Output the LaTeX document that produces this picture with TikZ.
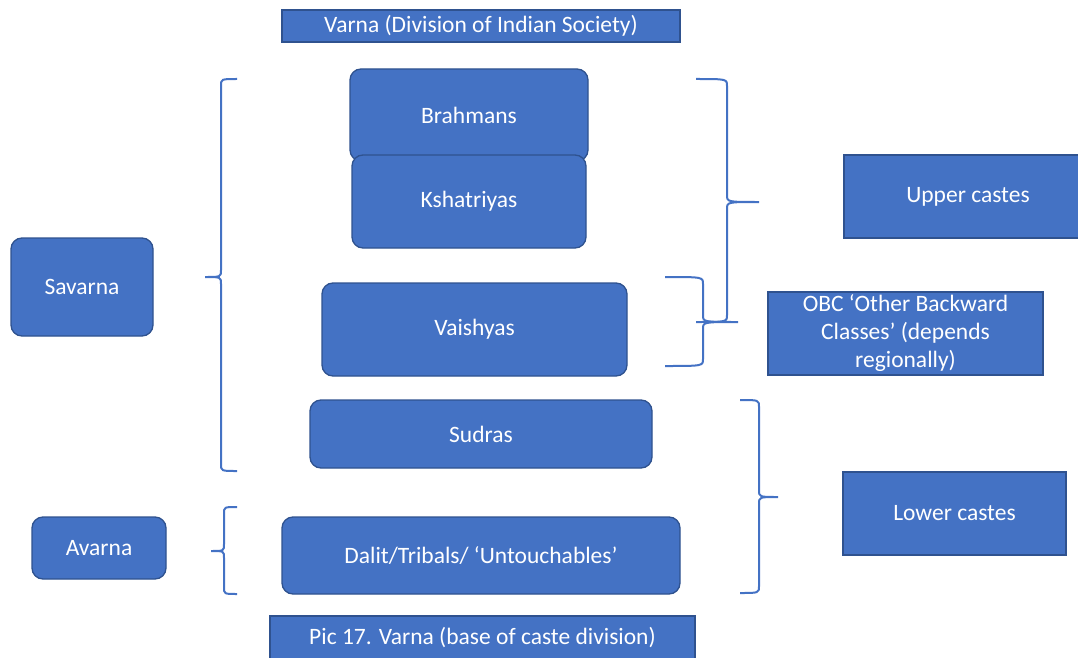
\documentclass[tikz,border=0pt]{standalone}
\usepackage{fontspec}
\setmainfont{Carlito}
\begin{document}
% bracket with a pointed tip: #1 arm-end x, #2 spine x, #3 tip x, #4 top y, #5 tip y, #6 bottom y
\newcommand\CasteBrace[6]{%
  \draw[bracestyle] (#1,#4) .. controls (#2,#4) .. (#2,#4+7) -- (#2,#5-7)
    .. controls (#2,#5) .. (#3,#5) .. controls (#2,#5) .. (#2,#5+7)
    -- (#2,#6-7) .. controls (#2,#6) .. (#1,#6);}
\begin{tikzpicture}[x=1pt,y=-1pt,
  every node/.style={font=\fontsize{23.5}{28}\selectfont, text=white, inner sep=0pt, outer sep=0pt},
  card/.style={fill=cardblue, draw=cardedge, line width=1.3pt, rounded corners=11pt},
  panel/.style={fill=cardblue, draw=cardedge, line width=1.3pt},
  bracestyle/.style={draw=cardblue, line width=2pt}]
\definecolor{cardblue}{HTML}{4472C4}
\definecolor{cardedge}{HTML}{2F528F}
\useasboundingbox (0,0) rectangle (1078,658);

% headline and caption
\node[panel, minimum width=398pt, minimum height=32pt] (title) at (481,26) {Varna (Division of Indian Society)};
\node[panel, minimum width=425pt, minimum height=44pt] (caption) at (482.5,638) {Pic 17. Varna (base of caste division)};

% the varnas
\node[card, minimum width=238pt, minimum height=92pt] (brahmans) at (469,115) {Brahmans};
\node[card, minimum width=234pt, minimum height=93pt] (kshatriyas) at (469,201.5) {Kshatriyas};
\node[card, minimum width=305pt, minimum height=93pt] (vaishyas) at (474.5,329.5) {Vaishyas};
\node[card, minimum width=342pt, minimum height=68pt] (sudras) at (481,434) {Sudras};
\node[card, minimum width=398pt, minimum height=77pt] (dalit) at (481,555.5) {Dalit/Tribals/ ‘Untouchables’};

% left-hand groups
\node[card, minimum width=142pt, minimum height=98pt] (savarna) at (82,287) {Savarna};
\node[card, minimum width=134pt, minimum height=62pt] (avarna) at (99,548) {Avarna};

% right-hand groups
\node[panel, minimum width=248pt, minimum height=83pt] (upper) at (968,196.5) {Upper castes};
\node[panel, minimum width=275pt, minimum height=83pt, align=center] (obc) at (905.5,333.5)
  {OBC ‘Other Backward\\Classes’ (depends\\regionally)};
\node[panel, minimum width=223pt, minimum height=83pt] (lower) at (954.5,513.5) {Lower castes};

% brackets
\CasteBrace{237}{221}{205}{79}{277}{471}
\CasteBrace{237}{224}{211}{507}{551}{594}
\CasteBrace{696}{727}{759}{79}{202}{322}
\CasteBrace{665}{703}{738}{277}{322}{366}
\CasteBrace{740}{759}{778}{400}{497}{593}
\end{tikzpicture}
\end{document}
